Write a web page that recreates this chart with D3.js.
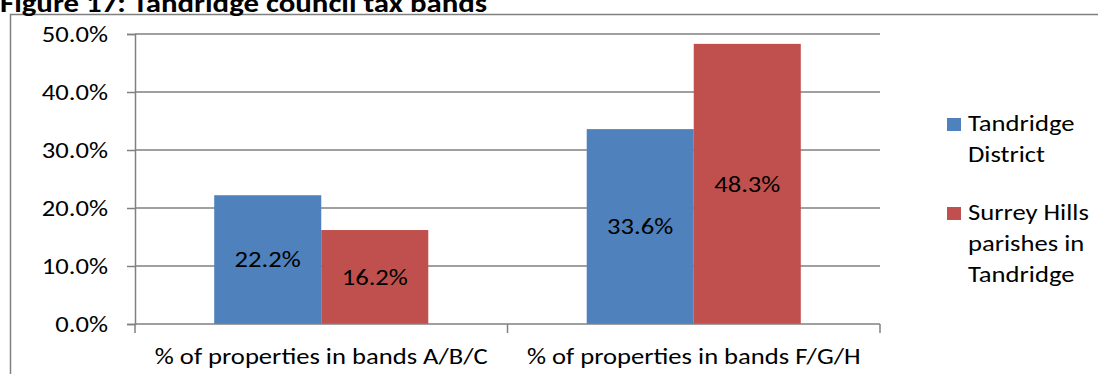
<!DOCTYPE html>
<html>
<head>
<meta charset="utf-8">
<script src="https://cdn.jsdelivr.net/npm/d3@7"></script>
<style>
  html, body { margin: 0; padding: 0; background: #fff; }
  svg { display: block; }
  text { font-family: Carlito, Calibri, Lato, "Open Sans", sans-serif; fill: #000; }
</style>
</head>
<body>
<svg id="chart" width="1098" height="374"></svg>
<script>
// Council tax band shares, Tandridge
const categories = ["% of properties in bands A/B/C", "% of properties in bands F/G/H"];
const seriesNames = ["Tandridge District", "Surrey Hills parishes in Tandridge"];
const tandridgeDistrict = [0.222, 0.336];
const surreyHillsParishes = [0.162, 0.483];
const yTicks = [0, 0.1, 0.2, 0.3, 0.4, 0.5];
const legendLines = [["Tandridge", "District"], ["Surrey Hills", "parishes in", "Tandridge"]];
const colors = ["#4F81BD", "#C0504D"];

const values = [tandridgeDistrict, surreyHillsParishes];
const rows = categories.map((c, i) => ({
  category: c,
  bars: seriesNames.map((s, j) => ({ series: s, value: values[j][i], color: colors[j] }))
}));

const svg = d3.select("#chart");
const plot = { left: 135, right: 880, top: 34, bottom: 324 };
const gridColor = "#808080";
const fmt = d3.format(".1%");
const fontSize = 22;
const widen = 1.21; // the figure's lettering is set horizontally wide

// Chart frame
svg.append("rect")
  .attr("x", 10.5).attr("y", 14.5)
  .attr("width", 1098).attr("height", 400)
  .attr("fill", "none").attr("stroke", gridColor).attr("stroke-width", 1.5);

// Title
svg.append("text")
  .attr("x", 0).attr("y", 12)
  .attr("font-size", 25.5).attr("font-weight", "bold")
  .text("Figure 17: Tandridge council tax bands");

const y = d3.scaleLinear().domain([0, 0.5]).range([plot.bottom, plot.top]);
const x0 = d3.scaleBand().domain(categories).range([plot.left, plot.right]).paddingInner(0).paddingOuter(0);
const x1 = d3.scaleBand().domain(seriesNames).range([0, x0.bandwidth()]).paddingInner(0).paddingOuter(0.74);

// Gridlines
svg.append("g")
  .selectAll("line")
  .data(yTicks.filter(t => t > 0))
  .join("line")
  .attr("x1", plot.left).attr("x2", plot.right)
  .attr("y1", d => y(d)).attr("y2", d => y(d))
  .attr("stroke", gridColor).attr("stroke-width", 1.5);

// Y axis
const yAxis = svg.append("g")
  .attr("transform", `translate(${plot.left},0)`)
  .call(d3.axisLeft(y).tickValues(yTicks).tickFormat(fmt).tickSize(8).tickPadding(19));
yAxis.attr("font-family", null);
yAxis.select(".domain").attr("stroke", gridColor).attr("stroke-width", 1.5);
yAxis.selectAll(".tick line").attr("stroke", gridColor).attr("stroke-width", 1.5);
yAxis.selectAll(".tick text").attr("font-size", fontSize).attr("fill", "#000");

// Bars
const groups = svg.append("g")
  .selectAll("g")
  .data(rows)
  .join("g")
  .attr("transform", d => `translate(${x0(d.category)},0)`);

groups.selectAll("rect")
  .data(d => d.bars)
  .join("rect")
  .attr("x", d => x1(d.series))
  .attr("width", x1.bandwidth())
  .attr("y", d => y(d.value))
  .attr("height", d => y(0) - y(d.value))
  .attr("fill", d => d.color);

// Value labels, centred in each bar
groups.selectAll("text")
  .data(d => d.bars)
  .join("text")
  .attr("x", d => x1(d.series) + x1.bandwidth() / 2)
  .attr("y", d => (y(d.value) + y(0)) / 2)
  .attr("dy", "0.35em")
  .attr("text-anchor", "middle")
  .attr("font-size", fontSize)
  .text(d => fmt(d.value));

// X axis
const xAxis = svg.append("g")
  .attr("transform", `translate(0,${plot.bottom})`)
  .call(d3.axisBottom(x0).tickSize(0).tickPadding(24));
xAxis.attr("font-family", null);
xAxis.select(".domain").attr("stroke", gridColor).attr("stroke-width", 1.5)
  .attr("d", `M${plot.left},0H${plot.right}`);
xAxis.selectAll(".tick text").attr("font-size", fontSize).attr("fill", "#000");
// Category separators
const edges = [plot.left, ...categories.map(c => x0(c) + x0.bandwidth())];
xAxis.selectAll(".sep")
  .data(edges)
  .join("line")
  .attr("class", "sep")
  .attr("x1", d => d).attr("x2", d => d)
  .attr("y1", 0).attr("y2", 9)
  .attr("stroke", gridColor).attr("stroke-width", 1.5);

// Legend
const legend = svg.append("g").attr("transform", "translate(947,0)");
const legendTop = [118, 207];
legendLines.forEach((lines, i) => {
  legend.append("rect")
    .attr("x", 0).attr("y", legendTop[i])
    .attr("width", 14).attr("height", 13)
    .attr("fill", colors[i]);
  const t = legend.append("text")
    .attr("x", 21).attr("y", legendTop[i] + 13)
    .attr("font-size", fontSize);
  lines.forEach((ln, k) => {
    t.append("tspan").attr("x", 21).attr("dy", k === 0 ? 0 : 31).text(ln);
  });
});

// Widen every text horizontally about its own anchor x
svg.selectAll("text").attr("transform", function () {
  const ax = +this.getAttribute("x") || 0;
  return `translate(${ax * (1 - widen)},0) scale(${widen},1)`;
});
</script>
</body>
</html>
